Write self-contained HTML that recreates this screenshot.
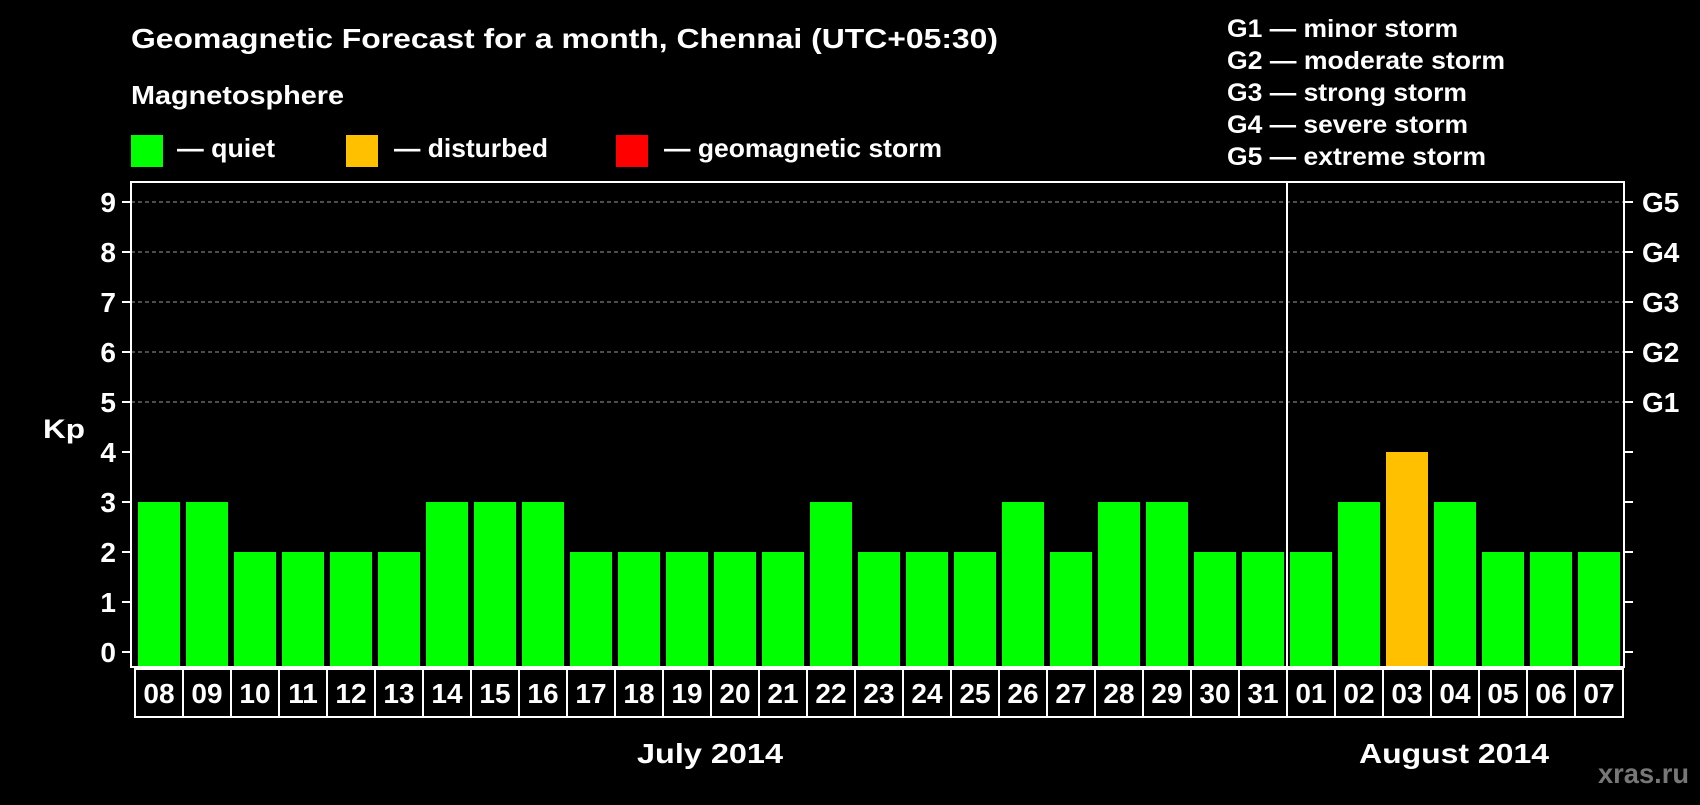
<!DOCTYPE html>
<html><head><meta charset="utf-8"><style>
body{margin:0;background:#000;width:1700px;height:800px;overflow:hidden;font-family:"Liberation Sans",sans-serif;}
svg text{font-family:"Liberation Sans",sans-serif;font-weight:bold;}
</style></head><body>
<svg id="c" width="1700" height="800" xmlns="http://www.w3.org/2000/svg">
<text x="131" y="48" fill="#fff" font-size="28" textLength="867" lengthAdjust="spacingAndGlyphs">Geomagnetic Forecast for a month, Chennai (UTC+05:30)</text>
<text x="131" y="104" fill="#fff" font-size="26" textLength="213" lengthAdjust="spacingAndGlyphs">Magnetosphere</text>
<rect x="131" y="135" width="32" height="32" fill="#00ff00"/>
<text x="177" y="157" fill="#fff" font-size="26" textLength="98" lengthAdjust="spacingAndGlyphs">— quiet</text>
<rect x="346" y="135" width="32" height="32" fill="#ffc000"/>
<text x="394" y="157" fill="#fff" font-size="26" textLength="154" lengthAdjust="spacingAndGlyphs">— disturbed</text>
<rect x="616" y="135" width="32" height="32" fill="#ff0000"/>
<text x="664" y="157" fill="#fff" font-size="26" textLength="278" lengthAdjust="spacingAndGlyphs">— geomagnetic storm</text>
<g fill="#fff" font-size="25" lengthAdjust="spacingAndGlyphs">
<text x="1227" y="37" textLength="231" lengthAdjust="spacingAndGlyphs">G1 — minor storm</text>
<text x="1227" y="69" textLength="278" lengthAdjust="spacingAndGlyphs">G2 — moderate storm</text>
<text x="1227" y="101" textLength="240" lengthAdjust="spacingAndGlyphs">G3 — strong storm</text>
<text x="1227" y="133" textLength="241" lengthAdjust="spacingAndGlyphs">G4 — severe storm</text>
<text x="1227" y="165" textLength="259" lengthAdjust="spacingAndGlyphs">G5 — extreme storm</text>
</g>
<text x="43" y="438" fill="#fff" font-size="27" textLength="42" lengthAdjust="spacingAndGlyphs">Kp</text>
<g id="plot"></g>
<text x="637" y="763" fill="#fff" font-size="28" textLength="146" lengthAdjust="spacingAndGlyphs">July 2014</text>
<text x="1359" y="763" fill="#fff" font-size="28" textLength="190" lengthAdjust="spacingAndGlyphs">August 2014</text>
<text x="1598" y="783" fill="#777" font-size="28" textLength="91" lengthAdjust="spacingAndGlyphs">xras.ru</text>
</svg>
<script>
const days=["08","09","10","11","12","13","14","15","16","17","18","19","20","21","22","23","24","25","26","27","28","29","30","31","01","02","03","04","05","06","07"];
const kp=[3,3,2,2,2,2,3,3,3,2,2,2,2,2,3,2,2,2,3,2,3,3,2,2,2,3,4,3,2,2,2];
const yTicks=[0,1,2,3,4,5,6,7,8,9];
const gLabels=["G1","G2","G3","G4","G5"];
const gLevels=[5,6,7,8,9];
const NS="http://www.w3.org/2000/svg";
const g=document.getElementById('plot');
const L=131,R=1624,T=182,B=667;
const y=v=>652-v*50;
const xs=i=>138+i*48;
function mk(t,a){const e=document.createElementNS(NS,t);for(const k in a)e.setAttribute(k,a[k]);g.appendChild(e);return e;}
yTicks.forEach(v=>{
 if(v>=5){const l=mk('line',{x1:L,x2:R,y1:y(v),y2:y(v),stroke:'#999','stroke-dasharray':'4,3','stroke-width':1});
 
 }
 const t1=mk('line',{x1:122,x2:L,y1:y(v),y2:y(v),stroke:'#fff','stroke-width':2});
 
 
 const t2=mk('line',{x1:R,x2:1633,y1:y(v),y2:y(v),stroke:'#fff','stroke-width':2});
 
 
 const tx=mk('text',{x:116,y:y(v)+10,fill:'#fff','font-size':28,'text-anchor':'end'});tx.textContent=v;
 
 
});
gLabels.forEach((s,i)=>{const t=mk('text',{x:1642,y:y(gLevels[i])+10,fill:'#fff','font-size':28});t.textContent=s;
 
 });
kp.forEach((v,i)=>{
 const r=mk('rect',{x:xs(i),y:y(v),width:42,height:B-y(v),fill:v>=5?'#ff0000':(v>=4?'#ffc000':'#00ff00')});
 
 
 const c=mk('rect',{x:xs(i)-3,y:B+2,width:48,height:48,fill:'none',stroke:'#fff','stroke-width':2});
 
 
 const t=mk('text',{x:xs(i)+21,y:B+36,fill:'#fff','font-size':28,'text-anchor':'middle'});t.textContent=days[i];
 
 
});
const f=mk('rect',{x:L,y:T,width:R-L,height:B-T,fill:'none',stroke:'#fff','stroke-width':2});


const m=days.indexOf("01");
const sep=mk('line',{x1:xs(m)-3,x2:xs(m)-3,y1:T,y2:B,stroke:'#fff','stroke-width':2});


</script>
</body></html>
